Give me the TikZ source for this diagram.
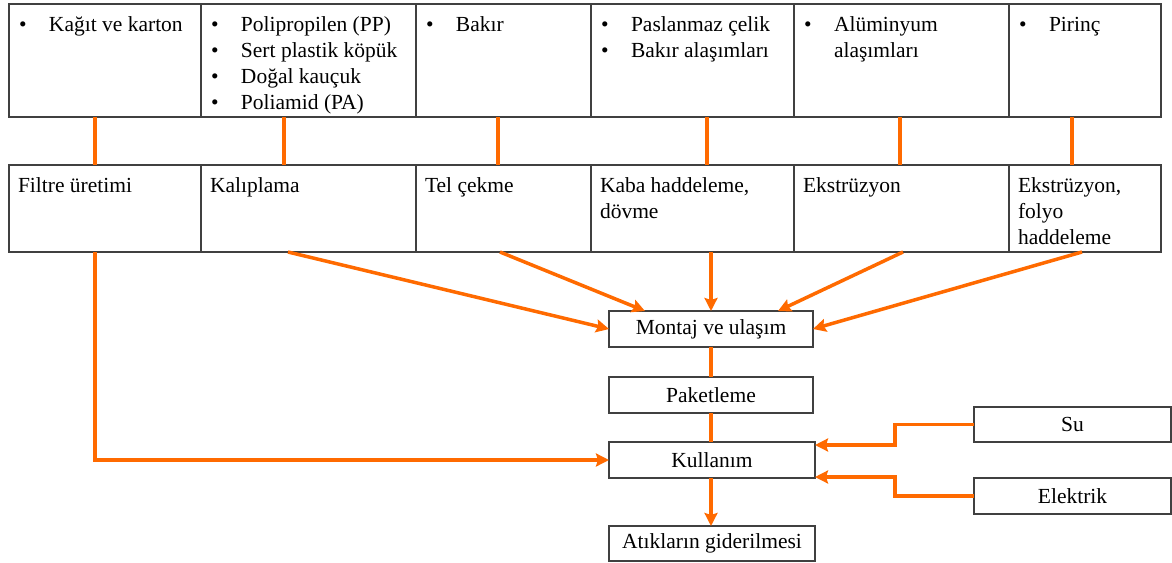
\documentclass[tikz,border=0pt]{standalone}
\usepackage{fontspec}
\setmainfont{Liberation Serif}
\usetikzlibrary{arrows.meta}
\definecolor{flow}{HTML}{FF6A00}
\definecolor{edge}{HTML}{404040}
\tikzset{
  box/.style={draw=edge, line width=1.4pt, inner sep=0pt, outer sep=0pt, anchor=north west, fill=white},
  txt/.style={inner sep=0pt, outer sep=0pt, anchor=north west, align=left, font=\fontsize{21.5}{26}\selectfont},
  ctxt/.style={inner sep=0pt, outer sep=0pt, font=\fontsize{21.5}{26}\selectfont},
  link/.style={draw=flow, line width=3.5pt},
  arr/.style={link, -{Stealth[length=13pt, width=13pt, inset=2pt]}},
}
\newcommand{\bl}{\makebox[30pt][l]{•}}
\newcommand{\fs}{\rule{0pt}{18.2pt}}
\begin{document}
\begin{tikzpicture}[x=1pt, y=-1pt]
\useasboundingbox (0,0) rectangle (1172,562);
% top row
\node[box, minimum width=192, minimum height=113] (t1) at (9,4) {};
\node[box, minimum width=215, minimum height=113] (t2) at (201,4) {};
\node[box, minimum width=175, minimum height=113] (t3) at (416,4) {};
\node[box, minimum width=203, minimum height=113] (t4) at (591,4) {};
\node[box, minimum width=215, minimum height=113] (t5) at (794,4) {};
\node[box, minimum width=152, minimum height=113] (t6) at (1009,4) {};
\node[txt] (t1x) at (19,12.8) {\fs\bl Kağıt ve karton};
\node[txt] (t2x) at (211,12.8) {\fs\bl Polipropilen (PP)\\\bl Sert plastik köpük\\\bl Doğal kauçuk\\\bl Poliamid (PA)};
\node[txt] (t3x) at (426,12.8) {\fs\bl Bakır};
\node[txt] (t4x) at (601,12.8) {\fs\bl Paslanmaz çelik\\\bl Bakır alaşımları};
\node[txt] (t5x) at (804,12.8) {\fs\bl Alüminyum\\\hspace*{30pt}alaşımları};
\node[txt] (t6x) at (1019,12.8) {\fs\bl Pirinç};
% second row
\node[box, minimum width=192, minimum height=87] (r1) at (9,165) {};
\node[box, minimum width=215, minimum height=87] (r2) at (201,165) {};
\node[box, minimum width=175, minimum height=87] (r3) at (416,165) {};
\node[box, minimum width=203, minimum height=87] (r4) at (591,165) {};
\node[box, minimum width=215, minimum height=87] (r5) at (794,165) {};
\node[box, minimum width=152, minimum height=87] (r6) at (1009,165) {};
\node[txt] (r1x) at (18,173.8) {\fs Filtre üretimi};
\node[txt] (r2x) at (210,173.8) {\fs Kalıplama};
\node[txt] (r3x) at (425,173.8) {\fs Tel çekme};
\node[txt] (r4x) at (600,173.8) {\fs Kaba haddeleme,\\dövme};
\node[txt] (r5x) at (803,173.8) {\fs Ekstrüzyon};
\node[txt] (r6x) at (1018,173.8) {\fs Ekstrüzyon,\\folyo\\haddeleme};
% lower chain
\node[box, minimum width=204, minimum height=36] (mon) at (609,311) {};
\node[ctxt] at (mon.center) {Montaj ve ulaşım};
\node[box, minimum width=204, minimum height=36] (pak) at (609,377) {};
\node[ctxt] at (pak.center) {Paketleme};
\node[box, minimum width=206, minimum height=36] (kul) at (609,442) {};
\node[ctxt] at (kul.center) {Kullanım};
\node[box, minimum width=206, minimum height=35] (atk) at (609,526) {};
\node[ctxt] at (atk.center) {Atıkların giderilmesi};
\node[box, minimum width=197, minimum height=35] (su) at (974,407) {};
\node[ctxt] at (su.center) {Su};
\node[box, minimum width=197, minimum height=36] (ele) at (974,478) {};
\node[ctxt] at (ele.center) {Elektrik};
% top -> second row
\draw[link] (t1.south -| 95,0) -- (r1.north -| 95,0);
\draw[link] (t2.south -| 284,0) -- (r2.north -| 284,0);
\draw[link] (t3.south -| 498,0) -- (r3.north -| 498,0);
\draw[link] (t4.south -| 707,0) -- (r4.north -| 707,0);
\draw[link] (t5.south -| 900,0) -- (r5.north -| 900,0);
\draw[link] (t6.south -| 1072,0) -- (r6.north -| 1072,0);
% second row -> chain
\draw[arr] (r1.south -| 95,0) -- (95,460) -- (kul.west);
\draw[arr] (r2.south -| 288,0) -- (mon.west);
\draw[arr] (r3.south -| 500,0) -- (mon.north -| 645,0);
\draw[arr] (r4.south -| 711,0) -- (mon.north -| 711,0);
\draw[arr] (r5.south -| 903,0) -- (mon.north -| 778,0);
\draw[arr] (r6.south -| 1082,0) -- (mon.east);
\draw[link] (mon.south) -- (pak.north);
\draw[link] (pak.south) -- (kul.north -| pak.south);
\draw[arr] (kul.south -| pak.south) -- (atk.north -| pak.south);
\draw[arr] (su.west) -- (895,424.5) -- (895,445) -- (kul.east |- 0,445);
\draw[arr] (ele.west) -- (895,496) -- (895,477) -- (kul.east |- 0,477);
\end{tikzpicture}
\end{document}
